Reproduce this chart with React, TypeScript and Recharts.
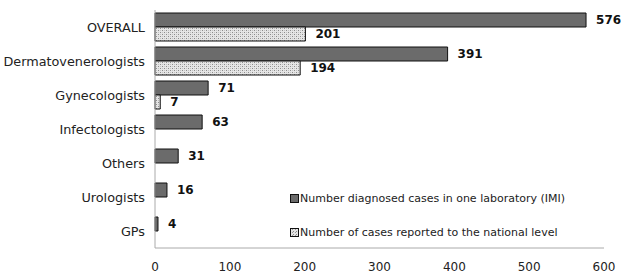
import React from "react";
import {
    BarChart,
    Bar,
    XAxis,
    YAxis,
    LabelList,
} from "recharts";

const categories = [
    "OVERALL",
    "Dermatovenerologists",
    "Gynecologists",
    "Infectologists",
    "Others",
    "Urologists",
    "GPs",
];
const labCases = [576, 391, 71, 63, 31, 16, 4];
const reportedCases = [201, 194, 7, null, null, null, null];
const xTicks = [0, 100, 200, 300, 400, 500, 600];

const LAB_NAME = "Number diagnosed cases in one laboratory (IMI)";
const REPORTED_NAME = "Number of cases reported to the national level";

const data = categories.map((name, i) => ({
    name,
    lab: labCases[i],
    reported: reportedCases[i],
}));

const font = "'DejaVu Sans', Verdana, sans-serif";

const LegendBox: React.FC = () => (
    <div
        style={{
            position: "absolute",
            left: 290,
            top: 181,
            fontFamily: font,
            fontSize: 11,
            color: "#222",
        }}
    >
        {[LAB_NAME, REPORTED_NAME].map((name, i) => (
            <div key={name} style={{ display: "flex", alignItems: "center", height: 34 }}>
                <svg width={9} height={9} style={{ marginRight: 1 }}>
                    <defs>
                        <pattern id="ldots" width={3} height={3} patternUnits="userSpaceOnUse">
                            <rect width={3} height={3} fill="#e4e4e4" />
                            <rect x={0} y={0} width={1} height={1} fill="#8a8a8a" />
                            <rect x={2} y={1} width={1} height={1} fill="#9a9a9a" />
                        </pattern>
                    </defs>
                    <rect
                        x={0.5}
                        y={0.5}
                        width={8}
                        height={8}
                        fill={i === 0 ? "#6b6b6b" : "url(#ldots)"}
                        stroke="#111"
                        strokeWidth={1}
                    />
                </svg>
                <span>{name}</span>
            </div>
        ))}
    </div>
);

const App: React.FC = () => {
    return (
        <div style={{ position: "absolute", left: 0, top: 0, width: 621, height: 276, background: "#fff" }}>
            <BarChart
                width={621}
                height={276}
                data={data}
                layout="vertical"
                margin={{ top: 10, right: 17, left: 0, bottom: 5 }}
                barSize={14}
                barGap={0}
            >
                <defs>
                    <pattern id="dots" width={4} height={4} patternUnits="userSpaceOnUse">
                        <rect width={4} height={4} fill="#e6e6e6" />
                        <rect x={0} y={0} width={1} height={1} fill="#8c8c8c" />
                        <rect x={2} y={2} width={1} height={1} fill="#8c8c8c" />
                        <rect x={2} y={0} width={1} height={1} fill="#c4c4c4" />
                        <rect x={0} y={2} width={1} height={1} fill="#c4c4c4" />
                    </pattern>
                </defs>
                <XAxis
                    type="number"
                    domain={[0, 600]}
                    ticks={xTicks}
                    tickLine={false}
                    axisLine={{ stroke: "#aaa" }}
                    tick={{ fill: "#222", fontSize: 12, fontFamily: font }}
                    tickMargin={8}
                    height={23}
                />
                <YAxis
                    type="category"
                    dataKey="name"
                    width={155}
                    tickLine={false}
                    tickSize={8}
                    axisLine={{ stroke: "#aaa" }}
                    tick={{ fill: "#222", fontSize: 12.8, fontFamily: font }}
                />
                <Bar
                    dataKey="lab"
                    name={LAB_NAME}
                    fill="#6b6b6b"
                    stroke="#111"
                    strokeWidth={1}
                    isAnimationActive={false}
                >
                    <LabelList
                        dataKey="lab"
                        position="right"
                        offset={10}
                        style={{ fill: "#111", fontSize: 12, fontWeight: "bold", fontFamily: font }}
                    />
                </Bar>
                <Bar
                    dataKey="reported"
                    name={REPORTED_NAME}
                    fill="url(#dots)"
                    stroke="#111"
                    strokeWidth={1}
                    isAnimationActive={false}
                >
                    <LabelList
                        dataKey="reported"
                        position="right"
                        offset={10}
                        style={{ fill: "#111", fontSize: 12, fontWeight: "bold", fontFamily: font }}
                    />
                </Bar>
            </BarChart>
            <LegendBox />
        </div>
    );
};

export default App;
